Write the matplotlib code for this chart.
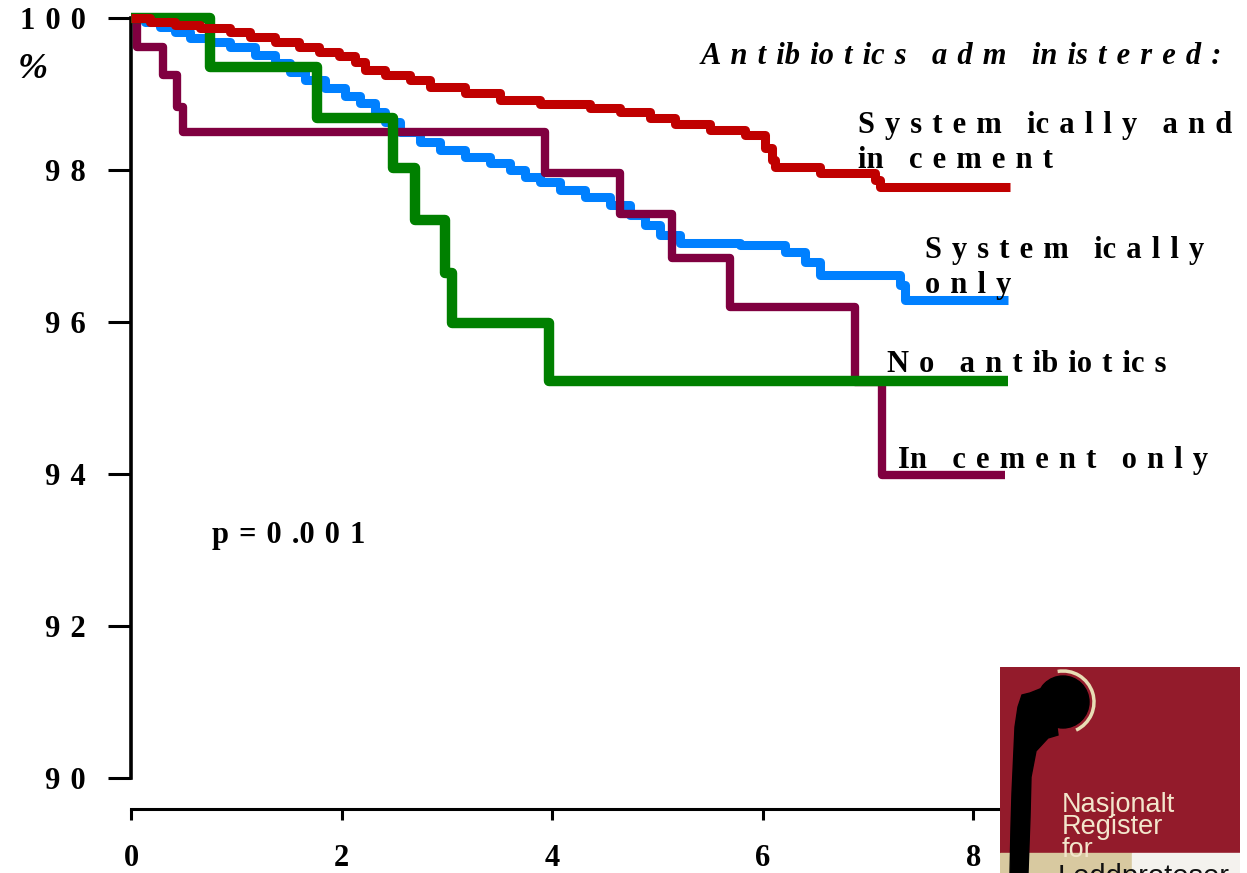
import matplotlib.pyplot as plt
from matplotlib.patches import Rectangle, Polygon, Circle, Arc

# survival (%) vs years
red_x = [0, 0.18, 0.42, 0.66, 0.94, 1.13, 1.37, 1.60, 1.79, 1.98, 2.13, 2.22, 2.41, 2.65, 2.84,
         3.17, 3.50, 3.88, 4.36, 4.64, 4.93, 5.17, 5.50, 5.83, 6.02, 6.09, 6.12, 6.54, 7.07, 7.11, 8.35]
red_y = [100, 99.95, 99.91, 99.87, 99.82, 99.75, 99.68, 99.62, 99.55, 99.50, 99.42, 99.32, 99.25, 99.18, 99.09,
         99.01, 98.92, 98.87, 98.82, 98.76, 98.68, 98.61, 98.53, 98.46, 98.29, 98.13, 98.04, 97.96, 97.87, 97.78, 97.78]

blue_x = [0, 0.13, 0.28, 0.42, 0.56, 0.75, 0.94, 1.18, 1.37, 1.51, 1.65, 1.84, 2.03, 2.17, 2.32, 2.41, 2.55,
          2.74, 2.93, 3.17, 3.41, 3.60, 3.74, 3.88, 4.07, 4.31, 4.55, 4.74, 4.88, 5.02, 5.21, 5.78, 6.21,
          6.40, 6.54, 7.30, 7.35, 8.33]
blue_y = [100, 99.95, 99.88, 99.82, 99.74, 99.68, 99.62, 99.51, 99.41, 99.29, 99.18, 99.08, 98.97, 98.88, 98.76,
          98.63, 98.50, 98.37, 98.26, 98.17, 98.09, 98.00, 97.91, 97.84, 97.74, 97.64, 97.54, 97.41, 97.28,
          97.14, 97.04, 97.01, 96.92, 96.79, 96.62, 96.49, 96.29, 96.29]

green_x = [0, 0.75, 1.77, 2.49, 2.70, 2.98, 3.05, 3.97, 8.33]
green_y = [100, 99.36, 98.68, 98.03, 97.34, 96.64, 95.99, 95.22, 95.22]

purple_x = [0, 0.06, 0.30, 0.44, 0.49, 3.93, 4.64, 5.14, 5.69, 6.88, 7.13, 8.30]
purple_y = [100, 99.62, 99.25, 98.83, 98.50, 97.96, 97.42, 96.84, 96.20, 95.21, 93.99, 93.99]

yticks = [90, 92, 94, 96, 98, 100]
ylabels = ["9 0", "9 2", "9 4", "9 6", "9 8", "1 0 0"]
xticks = [0, 2, 4, 6, 8]
xlabels = ["0", "2", "4", "6", "8"]

W, H = 1247, 873
serif = ["Liberation Serif", "DejaVu Serif"]


def spaced(s):
    # letter-spaced look of the original slide
    return s.replace("  ", "\u2002").replace(" ", "\u2004").replace("\u2002", "\u2004\u2002")


fig = plt.figure(figsize=(W / 100, H / 100), dpi=100)
ax = fig.add_axes([131 / W, (H - 809) / H, (W - 131) / W, 809 / H])
ax.set_xlim(0, (W - 131) / 105.3)
ax.set_ylim(100 - 791 / 76, 100 + 18 / 76)

kw = dict(where="post", solid_joinstyle="round", solid_capstyle="butt", clip_on=False)
ax.step(blue_x, blue_y, color="#0080FF", lw=6.5, zorder=2, **kw)
ax.step(purple_x, purple_y, color="#800040", lw=6.0, zorder=3, **kw)
ax.step(green_x, green_y, color="#008000", lw=7.5, zorder=4, **kw)
ax.step(red_x, red_y, color="#C00000", lw=6.5, zorder=5, **kw)

for s in ["top", "right"]:
    ax.spines[s].set_visible(False)
ax.spines["left"].set_bounds(90, 100)
ax.spines["left"].set_linewidth(2.6)
ax.spines["bottom"].set_bounds(0, 8.6)
ax.spines["bottom"].set_linewidth(2.2)

ax.set_yticks(yticks)
ax.set_yticklabels([spaced(t) for t in ylabels])
ax.set_xticks(xticks)
ax.set_xticklabels(xlabels)
ax.tick_params(axis="y", direction="out", length=16.5, width=2.2, pad=16)
ax.tick_params(axis="x", direction="out", length=8, width=2.2, pad=17)
for lab in ax.get_yticklabels():
    lab.set_fontfamily(serif)
    lab.set_fontweight("bold")
    lab.set_fontsize(22)
for lab in ax.get_xticklabels():
    lab.set_fontfamily(serif)
    lab.set_fontweight("bold")
    lab.set_fontsize(22)


def ftext(px, py, s, **k):
    fig.text(px / W, 1 - py / H, spaced(s), family=serif, fontweight="bold", va="baseline", **k)


ftext(18, 78, "%", fontsize=26, style="italic")
ftext(1222, 64, "A n t ib io t ic s  a d m  in is t e r e d :", fontsize=22, style="italic", ha="right")
ftext(858, 133, "S y s t e m  ic a l l y  a n d", fontsize=22)
ftext(858, 168, "in  c e m e n t", fontsize=22)
ftext(925, 258, "S y s t e m  ic a l l y", fontsize=22)
ftext(925, 293, "o n l y", fontsize=22)
ftext(887, 372, "N o  a n t ib io t ic s", fontsize=22)
ftext(898, 468, "In  c e m e n t  o n l y", fontsize=22)
ftext(212, 543, "p = 0 .0 0 1", fontsize=22)

# registry logo, bottom right
lg = fig.add_axes([1000 / W, 0, 240 / W, 206 / H])
lg.set_xlim(0, 240)
lg.set_ylim(206, 0)
lg.axis("off")
lg.add_patch(Rectangle((0, 0), 240, 206, color="#931B2B"))
lg.add_patch(Rectangle((0, 186), 132, 20, color="#D8C9A0"))
lg.add_patch(Rectangle((132, 186), 108, 20, color="#F4F2EE"))
lg.text(58, 218, "Leddproteser", family="Liberation Sans", fontsize=21, color="#111111",
        clip_on=True, va="baseline")
lg.add_patch(Arc((63, 35), 62, 62, theta1=-100, theta2=65, color="#E8DDB5", lw=2.5))
lg.add_patch(Circle((63, 35), 26, color="black"))
stem = [(10, 206), (11, 160), (12, 126), (15, 60), (18, 40), (22, 28), (30, 26), (40, 22),
        (55, 42), (57, 60), (58, 68), (48, 71), (36, 84), (31, 110), (30, 150), (28, 206)]
lg.add_patch(Polygon(stem, closed=True, color="black"))
for i, word in enumerate(["Nasjonalt", "Register", "for"]):
    lg.text(62, 145 + 22.5 * i, word, family="Liberation Sans", fontsize=19.5, color="#F3E6CC",
            va="baseline")

fig.savefig("out.png", dpi=100)
